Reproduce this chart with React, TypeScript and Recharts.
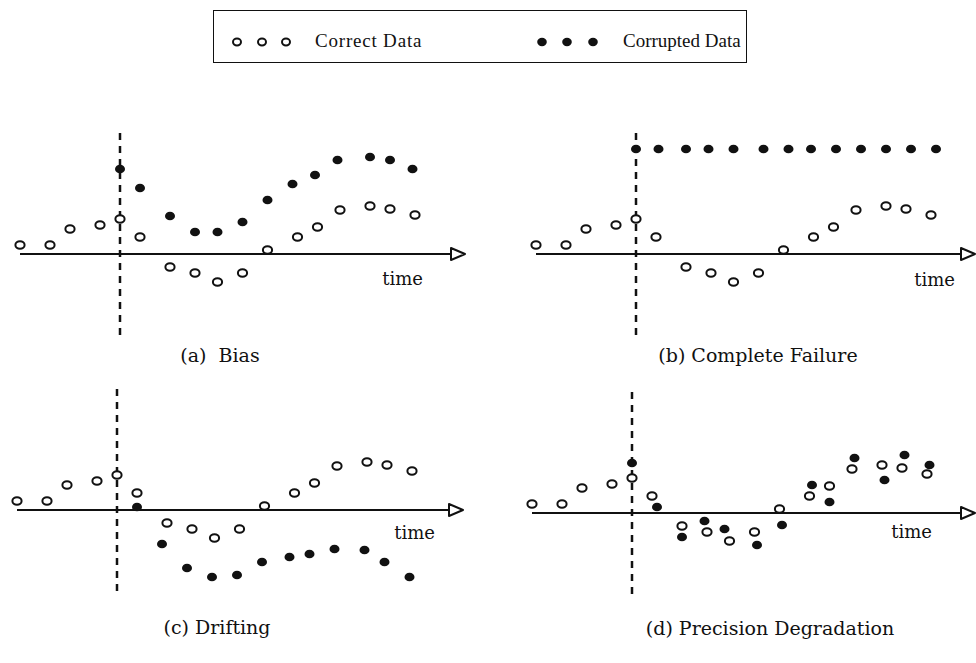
import {
  ReferenceDot,
  ReferenceLine,
  Scatter,
  ScatterChart,
  XAxis,
  YAxis,
} from "recharts";

// shared "correct" series (time, value)
const correctTimes = [-4, -2.8, -2, -0.8, 0, 0.8, 2, 3, 3.9, 4.9, 5.9, 7.1, 7.9, 8.8, 10, 10.8, 11.8];
const correctValues = [0.9, 0.9, 2.5, 2.9, 3.5, 1.7, -1.3, -1.9, -2.8, -1.9, 0.4, 1.7, 2.7, 4.4, 4.8, 4.5, 3.9];

const biasTimes = [0, 0.8, 2, 3, 3.9, 4.9, 5.9, 6.9, 7.8, 8.7, 10, 10.8, 11.7];
const biasValues = [8.5, 6.6, 3.8, 2.2, 2.2, 3.2, 5.4, 7.0, 7.9, 9.4, 9.7, 9.4, 8.5];

const failureTimes = [0, 0.9, 2, 2.9, 3.9, 5.1, 6.1, 7, 8, 9, 10, 11, 12];
const failureValues = [10.5, 10.5, 10.5, 10.5, 10.5, 10.5, 10.5, 10.5, 10.5, 10.5, 10.5, 10.5, 10.5];

const driftTimes = [0.8, 1.8, 2.8, 3.8, 4.8, 5.8, 6.9, 7.7, 8.7, 9.9, 10.7, 11.7];
const driftValues = [0.3, -3.4, -5.8, -6.7, -6.5, -5.2, -4.7, -4.4, -3.9, -4.0, -5.2, -6.7];

const precisionTimes = [0, 1, 2, 2.9, 3.7, 5, 6, 7.2, 7.9, 8.9, 10.1, 10.9, 11.9];
const precisionValues = [5.0, 0.6, -2.4, -0.8, -1.6, -3.2, -1.2, 2.8, 1.1, 5.5, 3.3, 5.8, 4.8];

const captions = ["(a)  Bias", "(b) Complete Failure", "(c) Drifting", "(d) Precision Degradation"];
const legendLabels = ["Correct Data", "Corrupted Data"];

const toPoints = (times: number[], values: number[]) =>
  times.map((t, i) => ({ t, v: values[i] }));

const correctData = toPoints(correctTimes, correctValues);

const INK = "#111";
const W = 480;
const H = 240;
const XU = 25; // px per time unit
const YU = 10; // px per value unit

const panels = [
  { left: 0, top: 120, ox: 120, oy: 254, axisEnd: 13.8, labelDx: -42, labelDy: 26, corrupted: toPoints(biasTimes, biasValues), cap: { x: 220, y: 355 } },
  { left: 496, top: 120, ox: 636, oy: 254, axisEnd: 13.56, labelDx: -20, labelDy: 27, corrupted: toPoints(failureTimes, failureValues), cap: { x: 758, y: 355 } },
  { left: 0, top: 375, ox: 117, oy: 510, axisEnd: 13.84, labelDx: -28, labelDy: 24, corrupted: toPoints(driftTimes, driftValues), cap: { x: 217, y: 627 } },
  { left: 496, top: 375, ox: 632, oy: 513, axisEnd: 13.72, labelDx: -43, labelDy: 20, corrupted: toPoints(precisionTimes, precisionValues), cap: { x: 770, y: 628 } },
];

const OpenDot = (props: any) => (
  <ellipse cx={props.cx} cy={props.cy} rx={4.6} ry={3.8} fill="#fff" stroke={INK} strokeWidth={2} />
);

const FilledDot = (props: any) => (
  <ellipse cx={props.cx} cy={props.cy} rx={5} ry={4.3} fill={INK} />
);

const arrowShape = (dx: number, dy: number) => (props: any) => {
  const { cx, cy } = props;
  return (
    <g>
      <polygon
        points={`${cx},${cy} ${cx - 14},${cy - 6} ${cx - 14},${cy + 6}`}
        fill="#fff"
        stroke={INK}
        strokeWidth={2}
        strokeLinejoin="round"
      />
      <text
        x={cx + dx}
        y={cy + dy}
        textAnchor="end"
        dominantBaseline="middle"
        fontFamily="DejaVu Serif"
        fontSize={18}
        fill={INK}
      >
        time
      </text>
    </g>
  );
};

const Panel = ({ p }: { p: (typeof panels)[number] }) => {
  const xDomain = [-(p.ox - p.left) / XU, (p.left + W - p.ox) / XU];
  const yDomain = [-(p.top + H - p.oy) / YU, (p.oy - p.top) / YU];
  return (
    <div style={{ position: "absolute", left: p.left, top: p.top }}>
      <ScatterChart width={W} height={H} margin={{ top: 0, right: 0, bottom: 0, left: 0 }}>
        <XAxis type="number" dataKey="t" domain={xDomain} allowDataOverflow hide />
        <YAxis type="number" dataKey="v" domain={yDomain} allowDataOverflow hide />
        <ReferenceLine
          segment={[{ x: -4, y: 0 }, { x: p.axisEnd, y: 0 }]}
          stroke={INK}
          strokeWidth={2}
        />
        <ReferenceLine
          segment={[{ x: 0, y: 12.1 }, { x: 0, y: -8.3 }]}
          stroke={INK}
          strokeWidth={2.5}
          strokeDasharray="7 6"
        />
        <ReferenceDot x={p.axisEnd} y={0} r={1} shape={arrowShape(p.labelDx, p.labelDy)} />
        <Scatter data={correctData} shape={OpenDot} isAnimationActive={false} />
        <Scatter data={p.corrupted} shape={FilledDot} isAnimationActive={false} />
      </ScatterChart>
    </div>
  );
};

const LegendBox = () => (
  <div
    style={{
      position: "absolute",
      left: 213,
      top: 10,
      width: 532,
      height: 51,
      border: `1.5px solid ${INK}`,
    }}
  >
    <svg width={532} height={51} style={{ position: "absolute", left: 0, top: 0 }}>
      {[23, 48, 72].map((x) => (
        <ellipse key={x} cx={x} cy={31} rx={4} ry={3.4} fill="#fff" stroke={INK} strokeWidth={2} />
      ))}
      <text x={101} y={32} dominantBaseline="middle" fontFamily="Liberation Serif" fontSize={19} letterSpacing={0.8} fill={INK}>
        {legendLabels[0]}
      </text>
      {[328, 353, 379].map((x) => (
        <ellipse key={x} cx={x} cy={31} rx={4.8} ry={4.2} fill={INK} />
      ))}
      <text x={409} y={32} dominantBaseline="middle" fontFamily="Liberation Serif" fontSize={19} fill={INK}>
        {legendLabels[1]}
      </text>
    </svg>
  </div>
);

export default function App() {
  return (
    <div
      style={{
        position: "absolute",
        left: 0,
        top: 0,
        width: 976,
        height: 663,
        background: "#fff",
        overflow: "hidden",
      }}
    >
      <LegendBox />
      {panels.map((p, i) => (
        <Panel key={i} p={p} />
      ))}
      {panels.map((p, i) => (
        <div
          key={"cap" + i}
          style={{
            position: "absolute",
            left: p.cap.x,
            top: p.cap.y,
            transform: "translate(-50%, -50%)",
            fontFamily: "DejaVu Serif",
            fontSize: 19,
            color: INK,
            whiteSpace: "pre",
          }}
        >
          {captions[i]}
        </div>
      ))}
    </div>
  );
}
